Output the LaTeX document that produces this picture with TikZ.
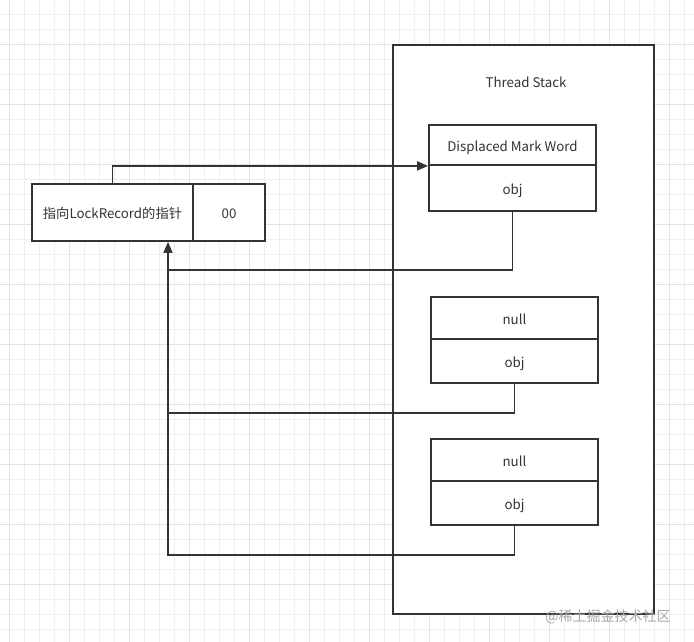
\documentclass[tikz,border=0pt]{standalone}
\usepackage{fontspec}
\setmainfont{Noto Sans CJK SC}
\usetikzlibrary{arrows.meta}
\definecolor{ink}{HTML}{333333}
\definecolor{txt}{HTML}{333333}
\definecolor{gridminor}{HTML}{EFEFEF}
\definecolor{gridmajor}{HTML}{E2E2E2}
\definecolor{wm}{HTML}{A8A8A8}
\tikzset{
  cell/.style={draw=ink, line width=1.8pt, fill=white, inner sep=0pt, text=txt,
    font=\fontsize{13.3}{15}\selectfont, text height=13pt, text depth=1pt},
  conn/.style={draw=ink, line width=1.8pt},
  arr/.style={conn, -{Triangle[length=11pt,width=9pt]}},
}
\begin{document}
\begin{tikzpicture}[x=1pt,y=-1pt]
\useasboundingbox (0,0) rectangle (694,642);
\fill[white] (0,0) rectangle (694,642);
% grid
\foreach \i in {0,...,46} {
  \pgfmathsetmacro{\xx}{9+15*\i}
  \draw[gridminor, line width=0.8pt] (\xx,0) -- (\xx,642);
}
\foreach \i in {0,...,42} {
  \pgfmathsetmacro{\yy}{14+15*\i}
  \draw[gridminor, line width=0.8pt] (0,\yy) -- (694,\yy);
}
\foreach \i in {0,...,11} {
  \pgfmathsetmacro{\xx}{9+60*\i}
  \draw[gridmajor, line width=0.9pt] (\xx,0) -- (\xx,642);
}
\foreach \i in {-1,...,10} {
  \pgfmathsetmacro{\yy}{44+60*\i}
  \draw[gridmajor, line width=0.9pt] (0,\yy) -- (694,\yy);
}
% thread stack
\node[cell, minimum width=261pt, minimum height=569pt] (ts) at (523.5,329.5) {};
\node[text=txt, font=\fontsize{13.3}{15}\selectfont] (tstitle) at (526,82) {Thread Stack};
% displaced mark word record
\node[cell, minimum width=167pt, minimum height=40pt] (dmwT) at (512.5,145) {Displaced Mark Word};
\node[cell, minimum width=167pt, minimum height=46pt] (dmwB) at (512.5,188) {obj};
% null records
\node[cell, minimum width=167pt, minimum height=42pt] (n1T) at (514.5,318) {null};
\node[cell, minimum width=167pt, minimum height=44pt] (n1B) at (514.5,361) {obj};
\node[cell, minimum width=167pt, minimum height=42pt] (n2T) at (514.5,460) {null};
\node[cell, minimum width=167pt, minimum height=44pt] (n2B) at (514.5,503) {obj};
% mark word on object header
\node[cell, minimum width=161pt, minimum height=57pt] (lc) at (112.5,212.5) {指向LockRecord的指针};
\node[cell, minimum width=72pt, minimum height=57pt] (rc) at (229,212.5) {00};
% junctions
\coordinate (j1) at (168,270);
\coordinate (j2) at (168,413);
\coordinate (j3) at (168,555);
% connectors
\draw[arr] (lc.north) |- (dmwT.south west);
\draw[conn] (dmwB.south) |- (j1);
\draw[conn] (n1B.south) |- (j2);
\draw[arr] (n2B.south) |- (j3) -- (lc.south -| j1);
% watermark
\node[text=wm, font=\fontsize{14}{16}\selectfont] (wmk) at (608,617) {@稀土掘金技术社区};
\end{tikzpicture}
\end{document}
